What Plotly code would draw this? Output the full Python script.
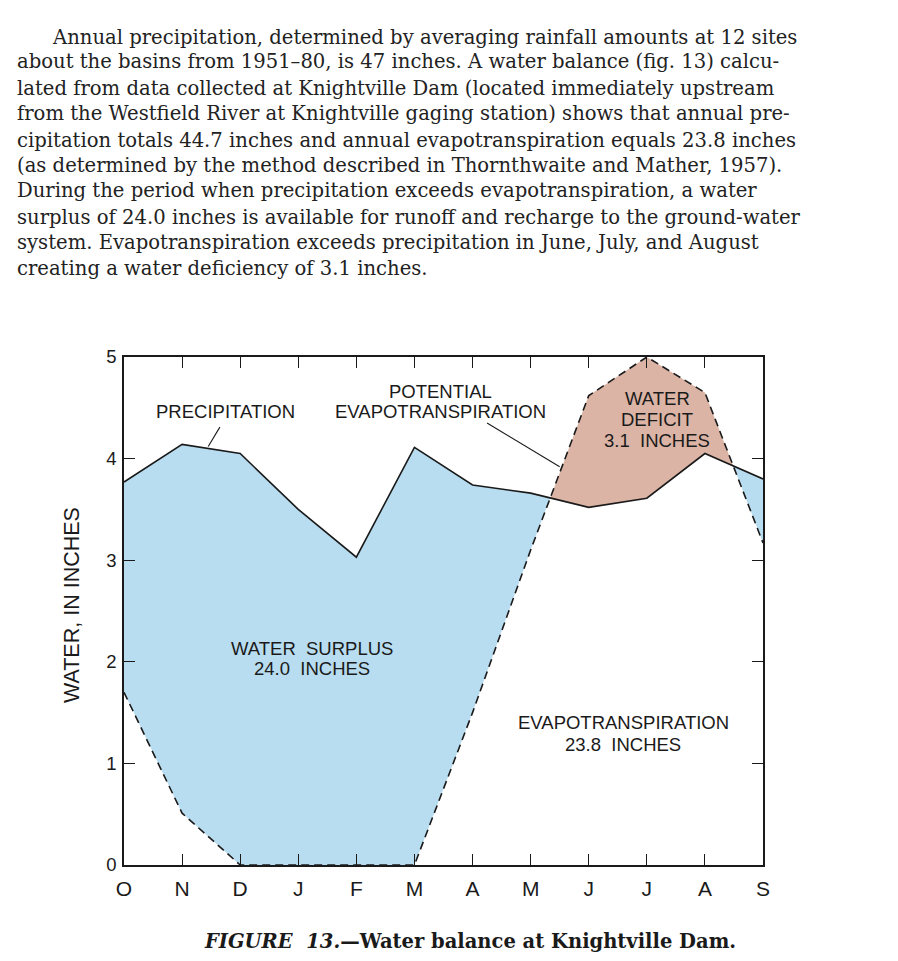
import plotly.graph_objects as go

# Water year months, October through September
months = ["O", "N", "D", "J", "F", "M", "A", "M", "J", "J", "A", "S"]
# Monthly precipitation, inches
precipitation = [3.77, 4.14, 4.05, 3.50, 3.03, 4.11, 3.74, 3.66, 3.52, 3.61, 4.05, 3.80]
# Monthly potential evapotranspiration, inches
potential_et = [1.70, 0.51, 0.0, 0.0, 0.0, 0.0, 1.50, 3.10, 4.62, 5.00, 4.65, 3.17]

paragraph = [
    "Annual precipitation, determined by averaging rainfall amounts at 12 sites",
    "about the basins from 1951–80, is 47 inches. A water balance (fig. 13) calcu-",
    "lated from data collected at Knightville Dam (located immediately upstream",
    "from the Westfield River at Knightville gaging station) shows that annual pre-",
    "cipitation totals 44.7 inches and annual evapotranspiration equals 23.8 inches",
    "(as determined by the method described in Thornthwaite and Mather, 1957).",
    "During the period when precipitation exceeds evapotranspiration, a water",
    "surplus of 24.0 inches is available for runoff and recharge to the ground-water",
    "system. Evapotranspiration exceeds precipitation in June, July, and August",
    "creating a water deficiency of 3.1 inches.",
]

W, H = 898, 961
L, R, T, B = 124, 763, 357, 865   # plot area in pixels

BLUE = "#b9ddf0"
PINK = "#dbb4a5"
INK = "#1a1a1a"
SANS = "Liberation Sans, Arial, sans-serif"
SERIF = "DejaVu Serif, serif"


def paper(px, py):
    return (px - L) / (R - L), (B - py) / (B - T)


# Insert crossing points so that surplus / deficit fills split cleanly
xs, ps, es = [], [], []
n = len(months)
for i in range(n):
    xs.append(float(i)); ps.append(precipitation[i]); es.append(potential_et[i])
    if i < n - 1:
        d0 = precipitation[i] - potential_et[i]
        d1 = precipitation[i + 1] - potential_et[i + 1]
        if d0 * d1 < 0:
            t = d0 / (d0 - d1)
            xs.append(i + t)
            ps.append(precipitation[i] + t * (precipitation[i + 1] - precipitation[i]))
            es.append(potential_et[i] + t * (potential_et[i + 1] - potential_et[i]))
lower = [min(p, e) for p, e in zip(ps, es)]

fig = go.Figure()
# Water surplus: between lower envelope and precipitation
fig.add_trace(go.Scatter(x=xs, y=lower, mode="lines", line=dict(width=0),
                         hoverinfo="skip", showlegend=False))
fig.add_trace(go.Scatter(x=xs, y=ps, mode="lines", line=dict(width=0),
                         fill="tonexty", fillcolor=BLUE, hoverinfo="skip", showlegend=False))
# Water deficit: between lower envelope and potential evapotranspiration
fig.add_trace(go.Scatter(x=xs, y=lower, mode="lines", line=dict(width=0),
                         hoverinfo="skip", showlegend=False))
fig.add_trace(go.Scatter(x=xs, y=es, mode="lines", line=dict(width=0),
                         fill="tonexty", fillcolor=PINK, hoverinfo="skip", showlegend=False))
# Curves
fig.add_trace(go.Scatter(x=list(range(n)), y=potential_et, mode="lines",
                         line=dict(color=INK, width=1.6, dash="8px,5px"),
                         name="Potential evapotranspiration", showlegend=False))
fig.add_trace(go.Scatter(x=list(range(n)), y=precipitation, mode="lines",
                         line=dict(color=INK, width=1.6),
                         name="Precipitation", showlegend=False))

axis_common = dict(showline=True, linecolor=INK, linewidth=1.6, mirror="ticks",
                   ticks="inside", ticklen=11, tickwidth=1.4, tickcolor=INK,
                   showgrid=False, zeroline=False)
fig.update_xaxes(range=[0, n - 1], tickmode="array", tickvals=list(range(n)),
                 ticktext=months, tickfont=dict(family=SANS, size=21, color=INK),
                 ticklabelstandoff=4, **axis_common)
fig.update_yaxes(range=[0, 5], tickmode="array", tickvals=[0, 1, 2, 3, 4, 5],
                 tickfont=dict(family=SANS, size=18.5, color=INK),
                 ticklabelstandoff=2, **axis_common)

ann = []


def label(lines, px, tops, size=18.5):
    # one annotation per text line, centred at pixel column px
    for txt, py in zip(lines, tops):
        ax_, ay_ = paper(px, py)
        ann.append(dict(x=ax_, y=ay_, xref="paper", yref="paper", text=txt,
                        showarrow=False, xanchor="center", yanchor="middle",
                        font=dict(family=SANS, size=size, color=INK)))


label(["PRECIPITATION"], 225, [411])
label(["POTENTIAL", "EVAPOTRANSPIRATION"], 440, [391, 411])
label(["WATER", "DEFICIT", "3.1  INCHES"], 657, [398, 419, 440])
label(["WATER  SURPLUS", "24.0  INCHES"], 312, [648, 668])
label(["EVAPOTRANSPIRATION", "23.8  INCHES"], 623, [722, 744])

# Y axis title
tx, ty = paper(72, 605)
ann.append(dict(x=tx, y=ty, xref="paper", yref="paper", text="WATER, IN INCHES",
                textangle=-90, showarrow=False, xanchor="center", yanchor="middle",
                font=dict(family=SANS, size=21.5, color=INK)))

# Body text above the figure
line_y = [37, 62, 88, 114, 140, 165, 191, 217, 243, 268]
for k, (txt, py) in enumerate(zip(paragraph, line_y)):
    px = 50 if k == 0 else 15
    ax_, ay_ = paper(px, py)
    ann.append(dict(x=ax_, y=ay_, xref="paper", yref="paper", text=txt,
                    xanchor="left", yanchor="middle", showarrow=False,
                    font=dict(family=SERIF, size=19.6, color="#222222")))

# Caption
cx, cy = paper(470, 941)
ann.append(dict(x=cx, y=cy, xref="paper", yref="paper", xanchor="center", yanchor="middle",
                text="<b><i>FIGURE  13.</i>—Water balance at Knightville Dam.</b>",
                showarrow=False, font=dict(family=SERIF, size=19.5, color=INK)))

# Leader lines from labels to curves
shapes = [
    dict(type="line", xref="x", yref="y", x0=1.45, y0=4.12, x1=1.65, y1=4.31,
         line=dict(color=INK, width=1.1)),
    dict(type="line", xref="x", yref="y", x0=6.25, y0=4.35, x1=7.5, y1=3.92,
         line=dict(color=INK, width=1.1)),
]

fig.update_layout(width=W, height=H, margin=dict(l=L, r=W - R, t=T, b=H - B),
                  paper_bgcolor="white", plot_bgcolor="white",
                  annotations=ann, shapes=shapes, showlegend=False)

fig.write_html("out.html")
